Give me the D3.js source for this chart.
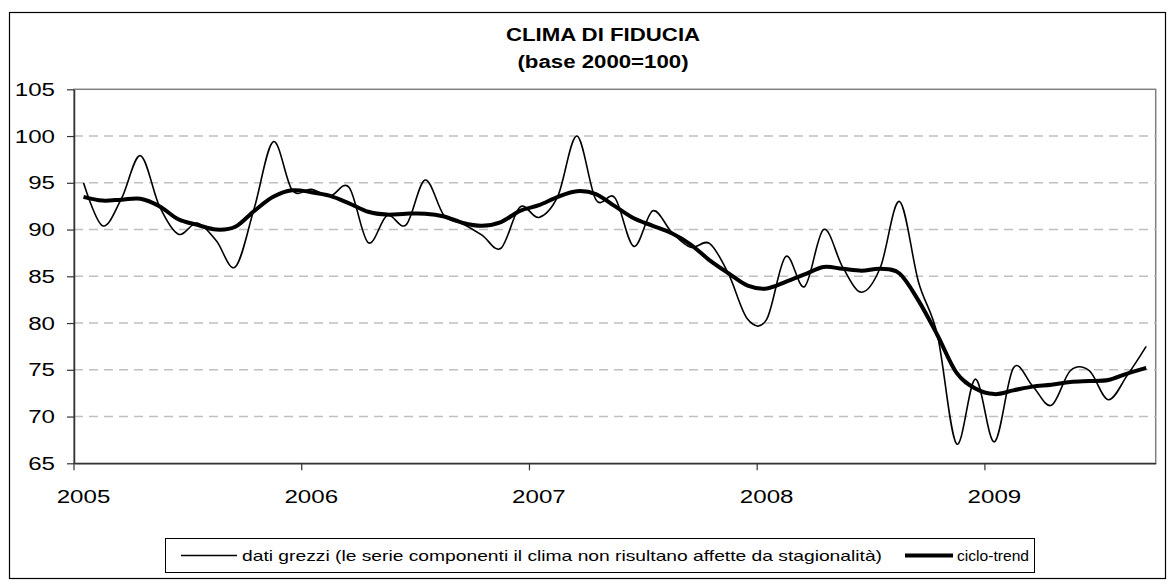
<!DOCTYPE html>
<html>
<head>
<meta charset="utf-8">
<script src="https://cdn.jsdelivr.net/npm/d3@7"></script>
<style>
  body { margin: 0; background: #fff; }
  text { font-family: "Liberation Sans", Arial, sans-serif; fill: #000; }
</style>
</head>
<body>
<div id="chart"></div>
<script>
// Clima di fiducia - dati mensili gen 2005 / set 2009
var years = ["2005", "2006", "2007", "2008", "2009"];
var monthsPerYear = [12, 12, 12, 12, 9];

var rawData = [
  95.0, 90.4, 93.3, 97.9, 92.5, 89.5, 90.7, 88.8, 86.0, 92.3, 99.4, 94.2,
  94.3, 93.6, 94.5, 88.6, 91.5, 90.5, 95.3, 91.5, 90.6, 89.4, 88.0, 92.4,
  91.3, 93.6, 100.0, 93.2, 93.4, 88.2, 92.0, 89.7, 88.1, 88.5, 85.2, 80.4,
  80.4, 87.1, 83.9, 90.0, 86.0, 83.3, 86.0, 93.0, 84.4, 78.7, 67.1, 74.0,
  67.3, 75.2, 73.3, 71.2, 74.9, 74.9, 71.8, 74.4, 77.5
];

var trendData = [
  93.5, 93.1, 93.2, 93.3, 92.5, 91.1, 90.5, 90.0, 90.3, 92.0, 93.5, 94.2,
  94.0, 93.6, 92.8, 91.9, 91.6, 91.7, 91.7, 91.4, 90.7, 90.4, 90.8, 92.0,
  92.6, 93.5, 94.1, 93.8, 92.5, 91.2, 90.4, 89.6, 88.4, 86.7, 85.3, 84.0,
  83.7, 84.4, 85.2, 86.0, 85.8, 85.6, 85.8, 85.3, 82.4, 78.7, 74.7, 73.0,
  72.4, 72.8, 73.2, 73.4, 73.7, 73.8, 73.9, 74.6, 75.2
];

var yTicks = [65, 70, 75, 80, 85, 90, 95, 100, 105];
var gridTicks = [70, 75, 80, 85, 90, 95, 100];
var titleLines = ["CLIMA DI FIDUCIA", "(base 2000=100)"];
var legendLabels = ["dati grezzi (le serie componenti il clima non risultano affette da stagionalità)", "ciclo-trend"];

var svgWidth = 1175;
var svgHeight = 584;
var plot = { left: 74, top: 89.3, right: 1155.7, bottom: 463.3 };
var sx = 1.27; // testo allargato come nell'originale

var months = [];
years.forEach(function(y, i) {
  for (var m = 1; m <= monthsPerYear[i]; m++) months.push(y + "-" + m);
});

var svg = d3.select("#chart")
  .append("svg")
  .attr("width", svgWidth)
  .attr("height", svgHeight);

// cornice esterna
svg.append("rect")
  .attr("x", 9.5).attr("y", 12.5)
  .attr("width", 1156).attr("height", 566)
  .attr("fill", "none")
  .attr("stroke", "#000")
  .attr("stroke-width", 1.2);

function stretchedText(g, x, y, str, size, weight, anchor) {
  return g.append("text")
    .attr("transform", `translate(${x},${y}) scale(${sx},1)`)
    .attr("text-anchor", anchor || "start")
    .attr("font-size", size)
    .attr("font-weight", weight || "normal")
    .text(str);
}

// titolo
var cx = 603;
stretchedText(svg, cx, 41, titleLines[0], 17.5, "bold", "middle");
stretchedText(svg, cx, 68, titleLines[1], 17.5, "bold", "middle");

var xScale = d3.scaleBand()
  .domain(months)
  .range([plot.left, plot.right]);
var bw = xScale.bandwidth();

var yScale = d3.scaleLinear()
  .domain([65, 105])
  .range([plot.bottom, plot.top]);

// bordo area del grafico
svg.append("rect")
  .attr("x", plot.left).attr("y", plot.top)
  .attr("width", plot.right - plot.left)
  .attr("height", plot.bottom - plot.top)
  .attr("fill", "none")
  .attr("stroke", "#808080")
  .attr("stroke-width", 1.5);

// griglia tratteggiata
svg.append("g").selectAll("line")
  .data(gridTicks)
  .enter()
  .append("line")
  .attr("x1", plot.left).attr("x2", plot.right)
  .attr("y1", d => yScale(d)).attr("y2", d => yScale(d))
  .attr("stroke", "#c0c0c0")
  .attr("stroke-width", 1.5)
  .attr("stroke-dasharray", "9,6");

// asse y
var yAxis = svg.append("g")
  .attr("transform", `translate(${plot.left},0)`)
  .call(d3.axisLeft(yScale).tickValues(yTicks).tickSize(7).tickSizeOuter(0).tickPadding(12));
yAxis.select(".domain").attr("stroke", "#333").attr("stroke-width", 1.5);
yAxis.selectAll(".tick line").attr("stroke", "#333").attr("stroke-width", 1.2);
yAxis.selectAll(".tick text")
  .attr("font-size", 19)
  .attr("font-family", "Liberation Sans, Arial, sans-serif")
  .attr("x", -19 / sx)
  .attr("transform", `scale(${sx},1)`);

// asse x: tacche tra le categorie, etichette al centro di gennaio
var janMonths = months.filter(m => m.endsWith("-1"));
var xAxis = svg.append("g")
  .attr("transform", `translate(0,${plot.bottom})`)
  .call(d3.axisBottom(xScale).tickValues(janMonths).tickFormat(m => m.split("-")[0]).tickSize(7).tickSizeOuter(0));
xAxis.select(".domain").attr("stroke", "#333").attr("stroke-width", 1.5);
xAxis.selectAll(".tick line")
  .attr("x1", -bw / 2).attr("x2", -bw / 2)
  .attr("stroke", "#333").attr("stroke-width", 1.2);
xAxis.selectAll(".tick text")
  .attr("font-size", 19)
  .attr("font-family", "Liberation Sans, Arial, sans-serif")
  .attr("y", 39.5)
  .attr("dy", 0)
  .attr("transform", `scale(${sx},1)`);

// linee
var line = d3.line()
  .x((d, i) => xScale(months[i]) + bw / 2)
  .y(d => yScale(d))
  .curve(d3.curveCardinal.tension(0));

svg.append("path")
  .datum(rawData)
  .attr("d", line)
  .attr("fill", "none")
  .attr("stroke", "#000")
  .attr("stroke-width", 1.6);

svg.append("path")
  .datum(trendData)
  .attr("d", line)
  .attr("fill", "none")
  .attr("stroke", "#000")
  .attr("stroke-width", 4)
  .attr("stroke-linejoin", "round");

// legenda
var legend = svg.append("g");
legend.append("rect")
  .attr("x", 165.5).attr("y", 538.5)
  .attr("width", 869).attr("height", 34)
  .attr("fill", "#fff")
  .attr("stroke", "#000")
  .attr("stroke-width", 1);
legend.append("line")
  .attr("x1", 181).attr("x2", 237)
  .attr("y1", 555.5).attr("y2", 555.5)
  .attr("stroke", "#000").attr("stroke-width", 1.6);
legend.append("text")
  .attr("x", 242).attr("y", 561)
  .attr("font-size", 15)
  .attr("textLength", 640)
  .attr("lengthAdjust", "spacingAndGlyphs")
  .text(legendLabels[0]);
legend.append("line")
  .attr("x1", 905).attr("x2", 953)
  .attr("y1", 555.5).attr("y2", 555.5)
  .attr("stroke", "#000").attr("stroke-width", 4);
legend.append("text")
  .attr("x", 957).attr("y", 561)
  .attr("font-size", 15)
  .attr("textLength", 72)
  .attr("lengthAdjust", "spacingAndGlyphs")
  .text(legendLabels[1]);
</script>
</body>
</html>
